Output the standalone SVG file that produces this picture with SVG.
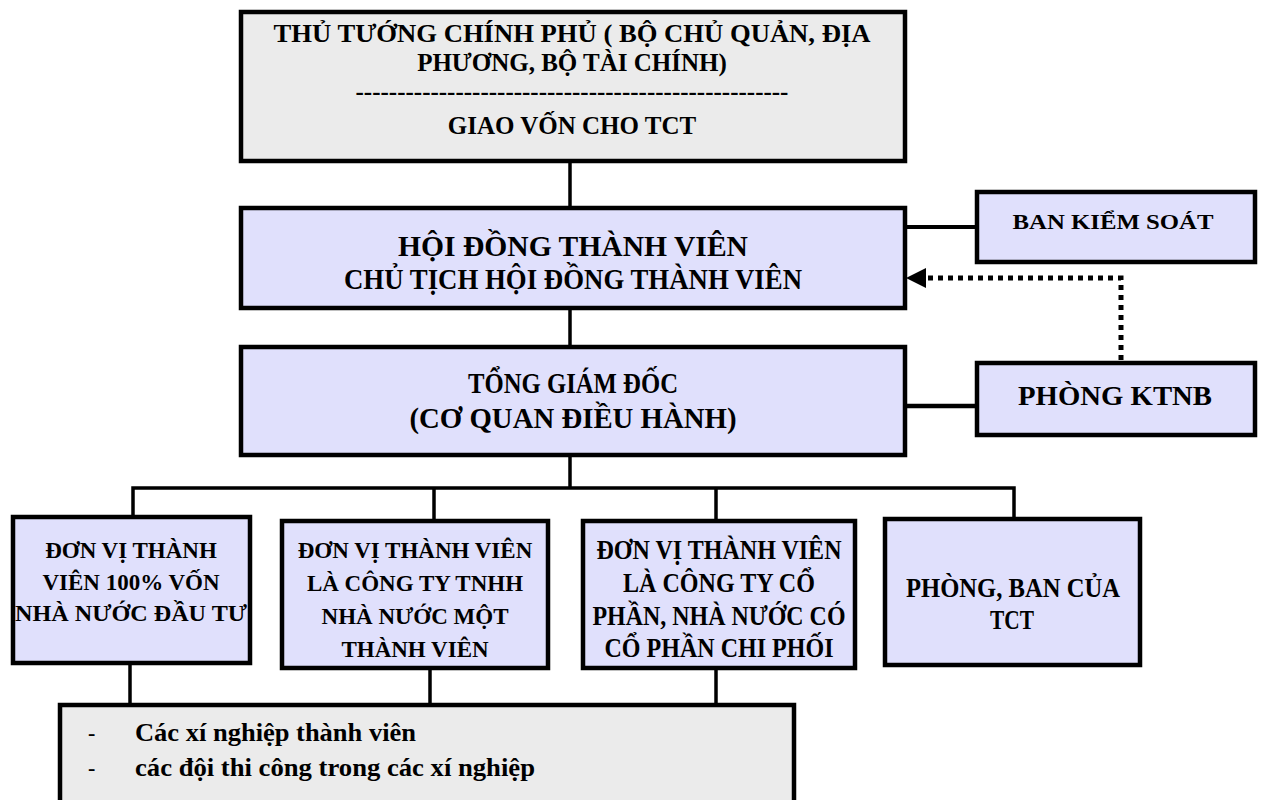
<svg xmlns="http://www.w3.org/2000/svg" width="1261" height="800" viewBox="0 0 1261 800">
  <defs>
    <style>
      .box { stroke: #000; stroke-width: 4.5; }
      .grey { fill: #ebebeb; }
      .lav { fill: #e0e0fc; }
      .t { font-family: "Liberation Serif", "Times New Roman", serif; font-weight: bold; fill: #000; text-anchor: middle; }
      .tl { font-family: "Liberation Serif", "Times New Roman", serif; font-weight: bold; fill: #000; }
      .link { stroke: #000; stroke-width: 3.5; fill: none; }
      .dotted { stroke: #000; stroke-width: 5; fill: none; stroke-dasharray: 5 5; }
    </style>
  </defs>

  <!-- connectors -->
  <g id="connectors">
    <line class="link" x1="570" y1="160" x2="570" y2="208"/>
    <line class="link" x1="570" y1="308" x2="570" y2="347"/>
    <line class="link" x1="905" y1="227" x2="977" y2="227" style="stroke-width:4"/>
    <line class="link" x1="905" y1="406" x2="977" y2="406" style="stroke-width:4.5"/>
    <line class="link" x1="570" y1="455" x2="570" y2="488"/>
    <polyline class="link" points="133,517 133,488 1014,488 1014,517"/>
    <line class="link" x1="434" y1="488" x2="434" y2="521"/>
    <line class="link" x1="716" y1="488" x2="716" y2="521"/>
    <line class="link" x1="130" y1="663" x2="130" y2="705"/>
    <line class="link" x1="430" y1="668" x2="430" y2="705"/>
    <line class="link" x1="716" y1="668" x2="716" y2="705"/>
    <!-- dotted reporting line from PHÒNG KTNB up to the board -->
    <polyline class="dotted" points="1121,360 1121,278 924,278"/>
    <path d="M906,278 L926,268 L926,288 z" fill="#000"/>
  </g>

  <!-- top authority -->
  <g id="chinh-phu">
    <rect class="box grey" x="241" y="12" width="664" height="149"/>
    <text class="t" x="572" y="42" font-size="25" textLength="597" lengthAdjust="spacingAndGlyphs">THỦ TƯỚNG CHÍNH PHỦ ( BỘ CHỦ QUẢN, ĐỊA</text>
    <text class="t" x="572" y="71" font-size="25">PHƯƠNG, BỘ TÀI CHÍNH)</text>
    <text class="t" x="572" y="100" font-size="25">----------------------------------------------------</text>
    <text class="t" x="572" y="134" font-size="25">GIAO VỐN CHO TCT</text>
  </g>

  <g id="hoi-dong">
    <rect class="box lav" x="241" y="208" width="664" height="100"/>
    <text class="t" x="573" y="256" font-size="29" textLength="350" lengthAdjust="spacingAndGlyphs">HỘI ĐỒNG THÀNH VIÊN</text>
    <text class="t" x="573" y="289" font-size="29" textLength="458" lengthAdjust="spacingAndGlyphs">CHỦ TỊCH HỘI ĐỒNG THÀNH VIÊN</text>
  </g>

  <g id="ban-kiem-soat">
    <rect class="box lav" x="977" y="192" width="278" height="70"/>
    <text class="t" x="1113" y="229" font-size="21" textLength="201" lengthAdjust="spacingAndGlyphs">BAN KIỂM SOÁT</text>
  </g>

  <g id="tong-giam-doc">
    <rect class="box lav" x="241" y="347" width="664" height="108"/>
    <text class="t" x="573" y="393" font-size="29" textLength="210" lengthAdjust="spacingAndGlyphs">TỔNG GIÁM ĐỐC</text>
    <text class="t" x="573" y="428" font-size="29" textLength="327" lengthAdjust="spacingAndGlyphs">(CƠ QUAN ĐIỀU HÀNH)</text>
  </g>

  <g id="phong-ktnb">
    <rect class="box lav" x="977" y="363" width="278" height="72"/>
    <text class="t" x="1115" y="405" font-size="28" textLength="194" lengthAdjust="spacingAndGlyphs">PHÒNG KTNB</text>
  </g>

  <g id="don-vi-100">
    <rect class="box lav" x="13" y="517" width="237" height="146"/>
    <text class="t" x="131" y="558" font-size="23">ĐƠN VỊ THÀNH</text>
    <text class="t" x="131" y="590" font-size="23">VIÊN 100% VỐN</text>
    <text class="t" x="131" y="621" font-size="23" textLength="232" lengthAdjust="spacingAndGlyphs">NHÀ NƯỚC ĐẦU TƯ</text>
  </g>

  <g id="don-vi-tnhh">
    <rect class="box lav" x="282" y="521" width="266" height="147"/>
    <text class="t" x="415" y="558" font-size="23">ĐƠN VỊ THÀNH VIÊN</text>
    <text class="t" x="415" y="591" font-size="23">LÀ CÔNG TY TNHH</text>
    <text class="t" x="415" y="624" font-size="23">NHÀ NƯỚC MỘT</text>
    <text class="t" x="415" y="657" font-size="23">THÀNH VIÊN</text>
  </g>

  <g id="don-vi-co-phan">
    <rect class="box lav" x="583" y="521" width="272" height="147"/>
    <text class="t" x="719" y="559" font-size="27" textLength="245" lengthAdjust="spacingAndGlyphs">ĐƠN VỊ THÀNH VIÊN</text>
    <text class="t" x="719" y="592" font-size="27" textLength="192" lengthAdjust="spacingAndGlyphs">LÀ CÔNG TY CỔ</text>
    <text class="t" x="719" y="625" font-size="27" textLength="253" lengthAdjust="spacingAndGlyphs">PHẦN, NHÀ NƯỚC CÓ</text>
    <text class="t" x="719" y="657" font-size="27" textLength="229" lengthAdjust="spacingAndGlyphs">CỔ PHẦN CHI PHỐI</text>
  </g>

  <g id="phong-ban">
    <rect class="box lav" x="885" y="519" width="255" height="146"/>
    <text class="t" x="1013" y="597" font-size="27" textLength="214" lengthAdjust="spacingAndGlyphs">PHÒNG, BAN  CỦA</text>
    <text class="t" x="1012" y="629" font-size="27" textLength="44" lengthAdjust="spacingAndGlyphs">TCT</text>
  </g>

  <g id="xi-nghiep">
    <rect class="box grey" x="60" y="705" width="734" height="110"/>
    <text class="tl" x="88" y="740" font-size="22">-</text>
    <text class="tl" x="135" y="741" font-size="26" textLength="281" lengthAdjust="spacingAndGlyphs">Các xí nghiệp thành viên</text>
    <text class="tl" x="88" y="775" font-size="22">-</text>
    <text class="tl" x="135" y="776" font-size="26" textLength="400" lengthAdjust="spacingAndGlyphs">các đội thi công trong các xí nghiệp</text>
  </g>
</svg>
